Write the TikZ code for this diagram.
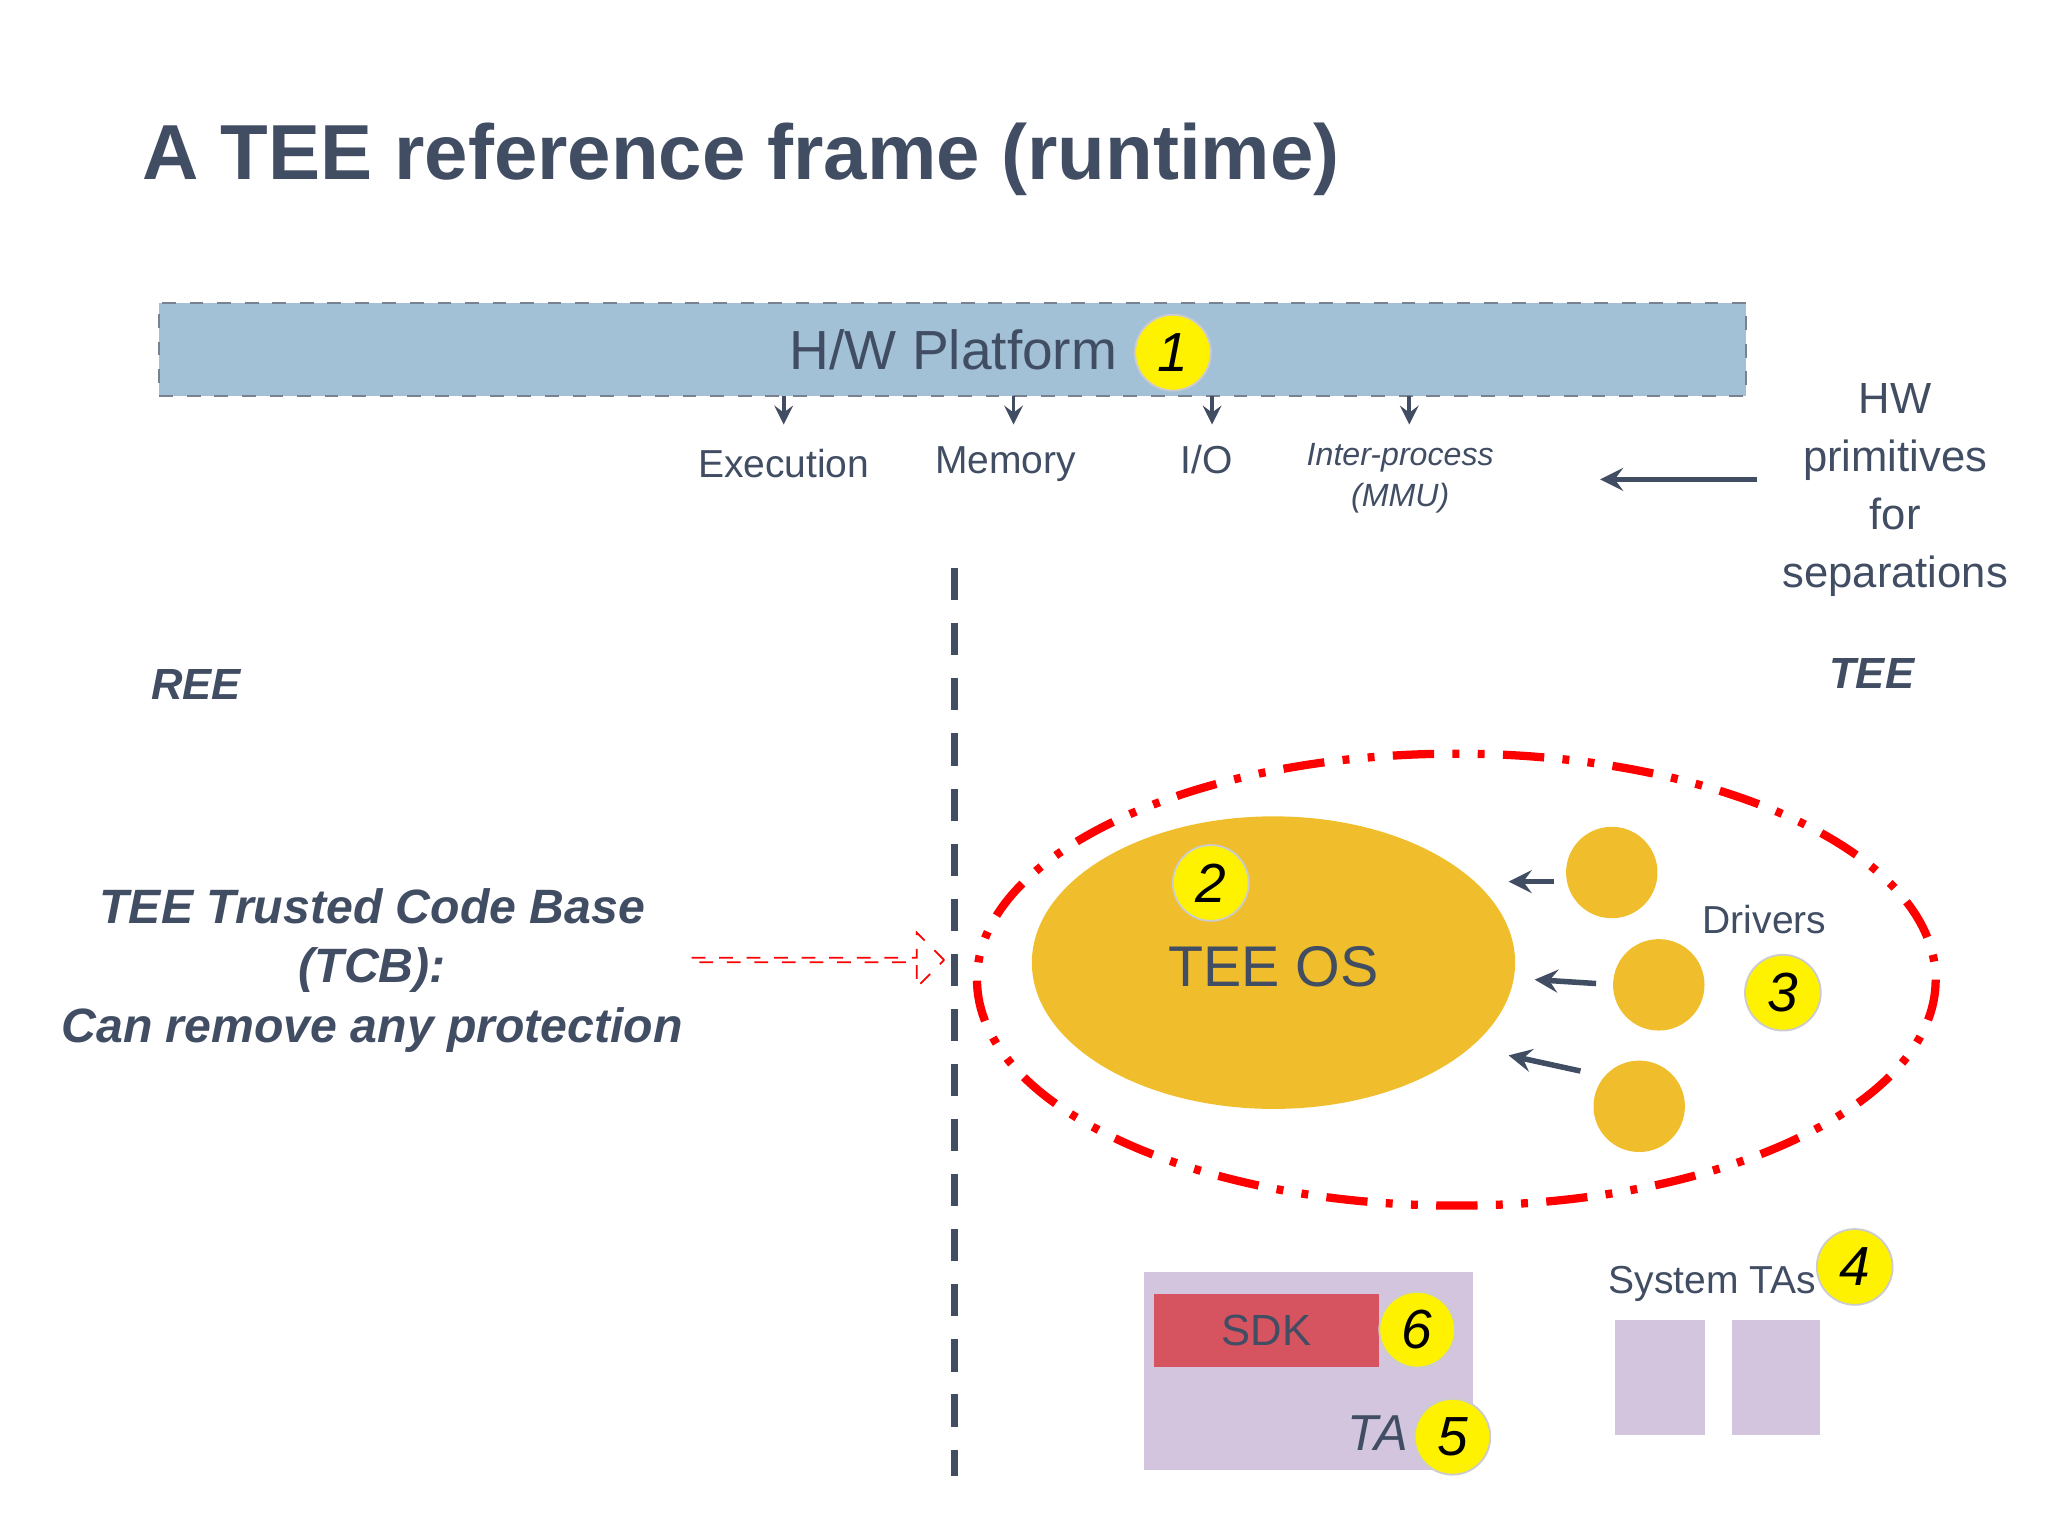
\documentclass[tikz,border=0pt]{standalone}
\usepackage{fontspec}
\setmainfont{Liberation Sans}
\usetikzlibrary{shapes.arrows,shapes.geometric,positioning}
\definecolor{slate}{HTML}{414D63}
\definecolor{hwblue}{HTML}{A3C1D6}
\definecolor{teeorange}{HTML}{F0BE2C}
\definecolor{tapurple}{HTML}{D3C5DE}
\definecolor{sdkred}{HTML}{D65460}
\tikzset{
  num/.style={circle,fill=yellow,draw=gray!40,minimum size=0.58cm,inner sep=0pt,font=\fontsize{12}{12}\selectfont\itshape},
  drv/.style={circle,fill=teeorange,minimum size=0.7cm,inner sep=0pt},
  lbl/.style={text=slate,font=\fontsize{8.5}{10}\selectfont},
  hwarr/.style={->,slate,thick,>=stealth}
}
\begin{document}
\begin{tikzpicture}[x=1cm,y=-1cm]
\useasboundingbox (0,0) rectangle (15.68,11.77);
% title
\node[anchor=west,text=slate,font=\fontsize{17}{20}\selectfont\bfseries] (title) at (0.97,1.22) {A TEE reference frame (runtime)};
% platform
\node[draw=slate!70,dashed,fill=hwblue,minimum width=12.15cm,minimum height=0.71cm] (hw) at (7.295,2.675) {};
\node[text=slate,font=\fontsize{12}{12}\selectfont] (hwtxt) at (7.3,2.68) {H/W Platform};
\node[num] (n1) at (8.98,2.7) {1};
\foreach \x/\n in {6.0/exe,7.76/mem,9.28/io,10.79/ipc}{
  \coordinate (\n) at (\x,3.03);
  \draw[hwarr] (\n) -- ++(0,0.22);
}
\node[lbl] (lexe) at (6.0,3.55) {Execution};
\node[lbl] (lmem) at (7.7,3.55) {Memory};
\node[lbl] (lio) at (9.24,3.52) {I/O};
\node[lbl,align=center,font=\fontsize{7}{9}\selectfont\itshape] (lipc) at (10.72,3.66) {Inter-process\\(MMU)};
\node[lbl,align=center,font=\fontsize{9.5}{12.6}\selectfont] (prim) at (14.51,3.75) {HW\\primitives\\for\\separations};
\coordinate (pa) at (13.45,3.67);
\coordinate (pb) at (12.25,3.67);
\draw[hwarr,very thick] (pa) -- (pb);
% separation line
\coordinate (sepa) at (7.31,4.35);
\coordinate (sepb) at (7.31,11.3);
\draw[slate,line width=1.6pt,dash pattern=on 7pt off 5pt] (sepa) -- (sepb);
\node[text=slate,font=\fontsize{9.5}{10}\selectfont\bfseries\itshape] (ree) at (1.5,5.24) {REE};
\node[text=slate,font=\fontsize{9.5}{10}\selectfont\bfseries\itshape] (tee) at (14.33,5.16) {TEE};
% TCB
\node[text=slate,align=center,font=\fontsize{10.5}{13}\selectfont\bfseries\itshape] (tcb) at (2.85,7.43) {TEE Trusted Code Base\\(TCB):\\Can remove any protection};
\node[single arrow,draw=red,dashed,thin,fill=white,minimum height=1.94cm,minimum width=0.42cm,single arrow head extend=0.08cm,single arrow head indent=0cm,inner sep=0pt] (tcbarr) at (6.25,7.35) {};
% trusted OS region
\draw[red,line width=1.8pt,dash pattern=on 9pt off 4pt on 1.5pt off 4pt on 1.5pt off 4pt] (11.15,7.5) ellipse (3.67 and 1.73);
\node[ellipse,fill=teeorange,minimum width=3.7cm,minimum height=2.24cm] (os) at (9.75,7.37) {};
\node[text=slate,font=\fontsize{12.5}{12}\selectfont] (ostxt) at (9.75,7.4) {TEE OS};
\node[num] (n2) at (9.27,6.76) {2};
\node[drv] (d1) at (12.34,6.68) {};
\node[drv] (d2) at (12.70,7.54) {};
\node[drv] (d3) at (12.55,8.47) {};
\coordinate (a1) at (11.9,6.75); \coordinate (b1) at (11.55,6.75);
\coordinate (a2) at (12.22,7.53); \coordinate (b2) at (11.75,7.5);
\coordinate (a3) at (12.1,8.2); \coordinate (b3) at (11.55,8.08);
\foreach \i in {1,2,3}{ \draw[hwarr,very thick] (a\i) -- (b\i); }
\node[lbl] (drvtxt) at (13.51,7.04) {Drivers};
\node[num] (n3) at (13.65,7.6) {3};
% TAs
\node[fill=tapurple,minimum width=2.52cm,minimum height=1.52cm,anchor=north west] (ta) at (8.75,9.73) {};
\node[fill=sdkred,text=slate,minimum width=1.72cm,minimum height=0.56cm,anchor=north west,font=\fontsize{9.5}{10}\selectfont] (sdk) at (8.83,9.9) {SDK};
\node[num] (n6) at (10.85,10.18) {6};
\node[text=slate,font=\fontsize{11}{11}\selectfont\itshape] (tatxt) at (10.55,10.97) {TA};
\node[num] (n5) at (11.12,11.0) {5};
\node[lbl] (systxt) at (13.11,9.83) {System TAs};
\node[num] (n4) at (14.2,9.7) {4};
\node[fill=tapurple,minimum width=0.69cm,minimum height=0.88cm,anchor=north west] (s1) at (12.36,10.1) {};
\node[fill=tapurple,minimum width=0.68cm,minimum height=0.88cm,anchor=north west] (s2) at (13.25,10.1) {};
\end{tikzpicture}
\end{document}
